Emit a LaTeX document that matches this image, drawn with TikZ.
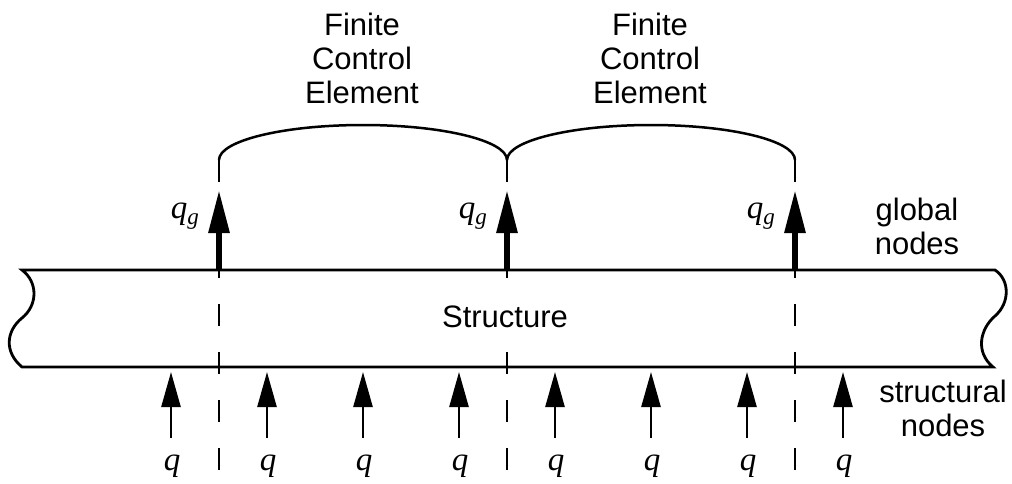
\documentclass[tikz,border=0pt]{standalone}
\usepackage{fontspec}
\setmainfont{Liberation Sans}
\newfontfamily\qfont{Liberation Serif}
\usetikzlibrary{arrows.meta}
\newcommand{\qsym}{{\qfont\itshape q}}
\newcommand{\qgsym}{{\qfont\itshape q\raisebox{-6pt}{\fontsize{23}{25}\selectfont g}}}
\begin{document}
\begin{tikzpicture}[x=1pt,y=-1pt,
  outline/.style={line width=2.8pt},
  guide/.style={line width=2.2pt, dash pattern=on 22pt off 26pt},
  fcearc/.style={line width=2.5pt},
  garrow/.style={line width=6pt, -{Triangle[length=43pt,width=20pt]}},
  sarrow/.style={line width=2.6pt, -{Triangle[length=35pt,width=19pt]}},
  lbl/.style={font=\fontsize{31}{34}\selectfont, align=center, inner sep=0pt},
  qlbl/.style={font=\fontsize{33}{36}\selectfont, inner sep=0pt}
]
\useasboundingbox (0,0) rectangle (1012,483);

% guide (dashed) lines
\foreach \i/\x in {1/219,2/507,3/795}{
  \coordinate (t\i) at (\x,160);
  \coordinate (d\i) at (\x,470);
  \draw[guide] (t\i) -- (d\i);
}

% finite control element arcs
\draw[fcearc] (t1) arc[start angle=180, end angle=0, x radius=144pt, y radius=35pt];
\draw[fcearc] (t2) arc[start angle=180, end angle=0, x radius=144pt, y radius=35pt];

% structure outline
\draw[outline] (22,270) -- (995,270)
  .. controls (1010,280) and (1010,303) .. (995,316)
  .. controls (980,329) and (975,352) .. (993,367)
  -- (22,367)
  .. controls (4,352) and (6,331) .. (22,318)
  .. controls (38,305) and (38,282) .. (22,270) -- cycle;

\node[lbl, anchor=base, fill=white, inner sep=3pt] (st) at (505,327) {Structure};

% global nodes arrows
\foreach \i/\x in {1/219,2/507,3/795}{
  \coordinate (gb\i) at (\x,270);
  \coordinate (gt\i) at (\x,190);
  \draw[garrow] (gb\i) -- (gt\i);
  \node[qlbl, anchor=base east] (qg\i) at (\x-20,218) {\qgsym};
}

% structural nodes arrows
\foreach \i/\x in {1/171,2/267,3/363,4/459,5/555,6/651,7/747,8/843}{
  \coordinate (sb\i) at (\x,438);
  \coordinate (stp\i) at (\x,372);
  \draw[sarrow] (sb\i) -- (stp\i);
  \node[qlbl, anchor=base] (q\i) at (\x+1,470) {\qsym};
}

% labels
\node[lbl, anchor=north] (fce1) at (362,13) {Finite\\Control\\Element};
\node[lbl, anchor=north] (fce2) at (650,13) {Finite\\Control\\Element};
\node[lbl, anchor=north] (gn) at (917,198) {global\\nodes};
\node[lbl, anchor=north] (sn) at (943,380) {structural\\nodes};
\end{tikzpicture}
\end{document}
